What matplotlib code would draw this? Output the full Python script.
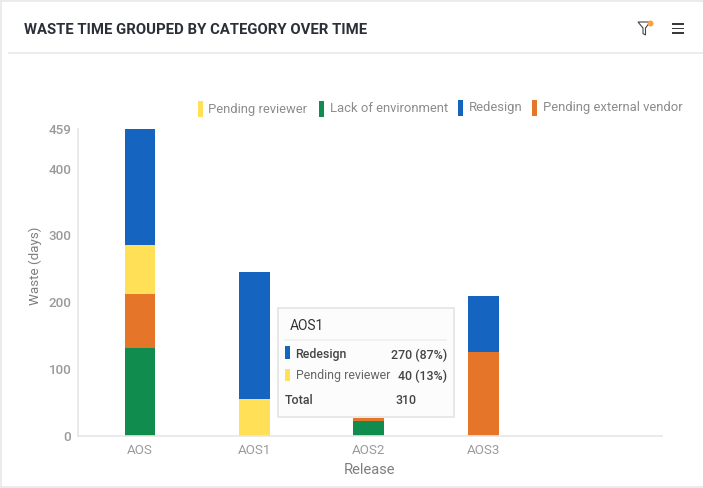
import matplotlib
matplotlib.use('Agg')
import matplotlib.pyplot as plt
from matplotlib.patches import Rectangle, Polygon, Circle
import numpy as np

plt.rcParams['font.family'] = ['Roboto', 'DejaVu Sans']

releases = ['AOS', 'AOS1', 'AOS2', 'AOS3']
lack_env = [132, 0, 22, 0]
external = [81, 0, 5, 126]
reviewer = [73, 55, 0, 0]
redesign = [173, 190, 0, 84]
y_ticks = [0, 100, 200, 300, 400, 459]

legend_names = ['Pending reviewer', 'Lack of environment', 'Redesign', 'Pending external vendor']

YELLOW = '#FFE057'
GREEN = '#118C4F'
BLUE = '#1565C0'
ORANGE = '#E57629'
GRID = '#E6E6E6'
TICK = '#9A9A9A'

W, H = 703, 488
fig = plt.figure(figsize=(W / 100, H / 100), dpi=100, facecolor='white')

# chart area placed in pixels
left, right, top, bottom = 77.5, 662, 129.3, 435.7
ax = fig.add_axes([left / W, 1 - bottom / H, (right - left) / W, (bottom - top) / H])
x = np.arange(len(releases))
base = np.zeros(len(releases))
for vals, col in [(lack_env, GREEN), (external, ORANGE), (reviewer, YELLOW), (redesign, BLUE)]:
    ax.bar(x, vals, width=0.27, bottom=base, color=col, linewidth=0)
    base = base + np.array(vals)
ax.set_xlim(-0.546, 4.563)
ax.set_ylim(0, 459)
ax.set_xticks(x)
ax.set_xticklabels(releases, fontsize=9.6, color=TICK)
ax.set_yticks(y_ticks)
ax.set_yticklabels([str(v) for v in y_ticks], fontsize=9.6, color=TICK, fontweight='medium')
ax.tick_params(axis='x', length=0, pad=6)
ax.tick_params(axis='y', length=0, pad=4.5)
for s in ['top', 'right']:
    ax.spines[s].set_visible(False)
for s in ['left', 'bottom']:
    ax.spines[s].set_color(GRID)
    ax.spines[s].set_linewidth(1.2)

# overlay in picture pixels for card, legend and tooltip
ov = fig.add_axes([0, 0, 1, 1], facecolor='none')
ov.set_xlim(0, W)
ov.set_ylim(H, 0)
ov.axis('off')

# card frame
ov.add_patch(Rectangle((0, 0), W, 2, color='#EBEBEB', lw=0))
ov.add_patch(Rectangle((0, 0), 2, H, color='#EBEBEB', lw=0))
ov.add_patch(Rectangle((0, H - 2), W, 2, color='#EBEBEB', lw=0))
ov.plot([9, W], [52.5, 52.5], color='#EDEDED', lw=1.4)

ov.text(24, 30.5, 'WASTE TIME GROUPED BY CATEGORY OVER TIME', fontsize=10.7,
        fontweight='bold', color='#2B3038', ha='left', va='center')

# filter icon
ov.add_patch(Polygon([(638, 22), (650, 22), (645.5, 28), (645.5, 35), (643, 33.5), (643, 28)],
                     closed=True, fc='white', ec='#444444', lw=0.8))
ov.add_patch(Circle((650.5, 23.5), 3, color='#F5A340', lw=0))
# menu icon
for yy in [24, 28.5, 33]:
    ov.add_patch(Rectangle((672, yy - 0.9), 12, 1.8, color='#3A3A3A', lw=0))

# legend
leg_sw = [199, 320, 459, 533]
leg_txt = [208, 330, 469, 543]
leg_col = [YELLOW, GREEN, BLUE, ORANGE]
leg_y = [108.5, 108.5, 107.5, 107.5]
for sx, tx, col, yy, name in zip(leg_sw, leg_txt, leg_col, leg_y, legend_names):
    ov.add_patch(Rectangle((sx - 1, yy - 8), 5, 16, color=col, lw=0))
    ov.text(tx, yy + 0.5, name, fontsize=9.4, color='#8C8C8C', ha='left', va='center')

# axis titles
ov.text(35.5, 266, 'Waste (days)', fontsize=9.6, color='#7F7F7F', rotation=90, ha='center', va='center')
ov.text(369.5, 469.5, 'Release', fontsize=10.6, color='#7F7F7F', ha='center', va='center')

# tooltip
ov.add_patch(Rectangle((277.5, 307.5), 176.5, 109.5, fc='#FCFCFC', ec='#E4E4E4', lw=1.2, zorder=5))
ov.plot([285, 446], [340, 340], color='#EFEFEF', lw=1.2, zorder=6)
ov.text(289.5, 325.5, 'AOS1', fontsize=10, color='#333333', ha='left', va='center', zorder=6)
ov.add_patch(Rectangle((285, 346), 4.5, 13, color=BLUE, lw=0, zorder=6))
ov.add_patch(Rectangle((285, 369), 4.5, 12, color=YELLOW, lw=0, zorder=6))
ov.text(295.5, 354.5, 'Redesign', fontsize=8.9, fontweight='medium', color='#444444', ha='left', va='center', zorder=6)
ov.text(295.5, 376, 'Pending reviewer', fontsize=8.9, color='#666666', ha='left', va='center', zorder=6)
ov.text(447.5, 355.5, '270 (87%)', fontsize=8.9, fontweight='medium', color='#444444', ha='right', va='center', zorder=6)
ov.text(447.5, 376, '40 (13%)', fontsize=8.9, fontweight='medium', color='#444444', ha='right', va='center', zorder=6)
ov.text(285, 400, 'Total', fontsize=8.9, fontweight='medium', color='#444444', ha='left', va='center', zorder=6)
ov.text(416, 400, '310', fontsize=8.9, fontweight='medium', color='#444444', ha='right', va='center', zorder=6)

fig.savefig('out.png', dpi=100)
